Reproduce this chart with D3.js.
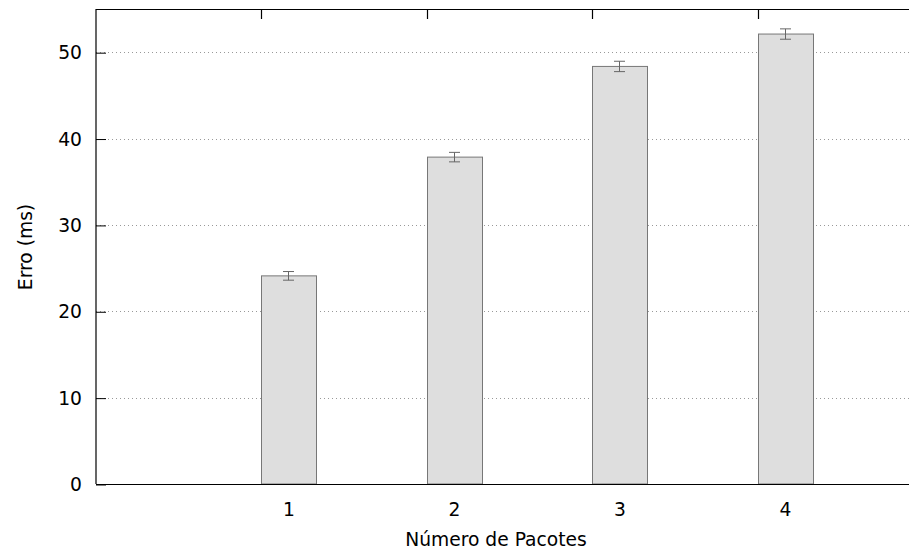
<!DOCTYPE html>
<html>
<head>
<meta charset="utf-8">
<script src="https://cdn.jsdelivr.net/npm/d3@7"></script>
<style>
  html, body { margin: 0; padding: 0; background: #fff; }
  svg { display: block; font-family: "DejaVu Sans", sans-serif; }
</style>
</head>
<body>
<svg id="chart" width="909" height="552"></svg>
<script>
// Mean error per number of packets, with its error margin
const categories = [1, 2, 3, 4];
const errorMeans = [24.1, 37.85, 48.35, 52.1];
const errorMargins = [0.5, 0.55, 0.6, 0.6];
const yTicks = [0, 10, 20, 30, 40, 50];

const svg = d3.select("#chart");
const plotLeft = 96, plotTop = 9, plotBottom = 484;
const barHalf = 0.166;
const fontSize = 18.7;

const x = d3.scaleLinear().domain([-0.163, 5]).range([plotLeft, plotLeft + 5.163 * 165.5]);
const y = d3.scaleLinear().domain([0, 55]).range([plotBottom, plotTop]);

// dotted horizontal grid
svg.append("g").selectAll("line")
  .data(yTicks.filter(d => d > 0))
  .join("line")
  .attr("x1", plotLeft).attr("x2", 909)
  .attr("y1", d => Math.round(y(d)) + 0.5).attr("y2", d => Math.round(y(d)) + 0.5)
  .attr("stroke", "#999").attr("stroke-width", 1)
  .attr("stroke-dasharray", "1,3");

// bars
svg.append("g").selectAll("rect")
  .data(categories)
  .join("rect")
  .attr("x", d => Math.round(x(d - barHalf)) + 0.5)
  .attr("y", (d, i) => y(errorMeans[i]))
  .attr("width", d => Math.round(x(d + barHalf) - x(d - barHalf)))
  .attr("height", (d, i) => plotBottom - y(errorMeans[i]))
  .attr("fill", "#dedede")
  .attr("stroke", "#777").attr("stroke-width", 1);

// error bars
const eb = svg.append("g").attr("stroke", "#666").attr("stroke-width", 1);
categories.forEach((c, i) => {
  const cx = Math.round(x(c)) + 0.5;
  const hi = y(errorMeans[i] + errorMargins[i]);
  const lo = y(errorMeans[i] - errorMargins[i]);
  eb.append("line").attr("x1", cx).attr("x2", cx).attr("y1", hi).attr("y2", lo);
  eb.append("line").attr("x1", cx - 5.5).attr("x2", cx + 5.5).attr("y1", hi).attr("y2", hi);
  eb.append("line").attr("x1", cx - 5.5).attr("x2", cx + 5.5).attr("y1", lo).attr("y2", lo);
});

// frame: left, top, bottom
const frame = svg.append("g").attr("stroke", "#000").attr("stroke-width", 1.2).attr("fill", "none");
frame.append("line").attr("x1", plotLeft).attr("x2", plotLeft).attr("y1", plotTop).attr("y2", plotBottom);
frame.append("line").attr("x1", plotLeft).attr("x2", 909).attr("y1", plotTop + 0.5).attr("y2", plotTop + 0.5);
frame.append("line").attr("x1", plotLeft).attr("x2", 909).attr("y1", plotBottom + 0.5).attr("y2", plotBottom + 0.5);

// top tick marks
frame.selectAll("line.tt")
  .data(categories)
  .join("line").attr("class", "tt")
  .attr("x1", d => Math.round(x(d - barHalf)) + 0.5)
  .attr("x2", d => Math.round(x(d - barHalf)) + 0.5)
  .attr("y1", plotTop).attr("y2", plotTop + 10);

// y axis
const yAxis = d3.axisLeft(y).tickValues(yTicks).tickSize(-10).tickPadding(14).tickFormat(d3.format("d"));
const ga = svg.append("g").attr("transform", `translate(${plotLeft},0.5)`).call(yAxis);
ga.select(".domain").remove();
ga.selectAll("line").attr("stroke", "#000");
ga.selectAll("text").attr("font-size", fontSize).attr("fill", "#000")
  .attr("font-family", "DejaVu Sans, sans-serif");

// x axis labels
const xAxis = d3.axisBottom(x).tickValues(categories).tickSize(0).tickPadding(19).tickFormat(d3.format("d"));
const gx = svg.append("g").attr("transform", `translate(0,${plotBottom})`).call(xAxis);
gx.select(".domain").remove();
gx.selectAll("text").attr("font-size", fontSize).attr("fill", "#000")
  .attr("font-family", "DejaVu Sans, sans-serif");

// axis titles
svg.append("text")
  .attr("x", 496).attr("y", 546)
  .attr("text-anchor", "middle").attr("font-size", fontSize)
  .text("Número de Pacotes");
svg.append("text")
  .attr("transform", "translate(31.5,247) rotate(-90)")
  .attr("text-anchor", "middle").attr("font-size", fontSize)
  .text("Erro (ms)");
</script>
</body>
</html>
